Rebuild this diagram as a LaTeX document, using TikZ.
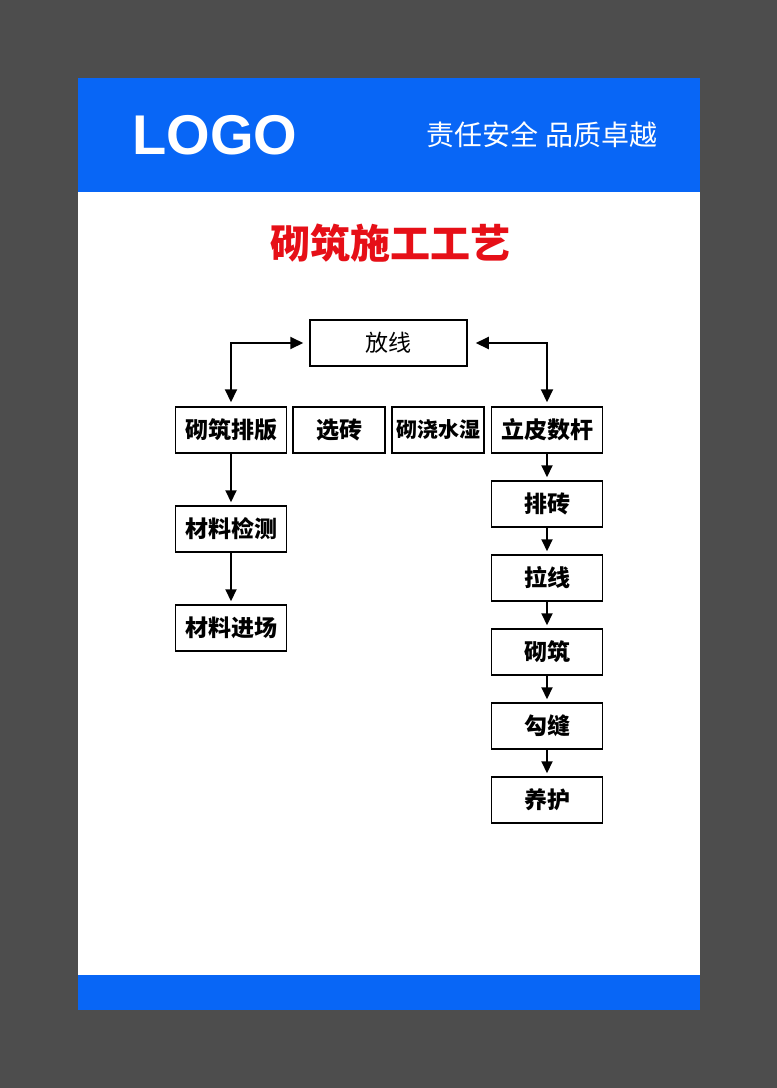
\documentclass[tikz,border=0pt]{standalone}
\usepackage{fontspec}
\setmainfont{Liberation Sans}
\newfontfamily\cjk{Noto Sans CJK SC}
\usetikzlibrary{positioning,arrows.meta}
\definecolor{hdrblue}{HTML}{0866F6}
\definecolor{bggray}{HTML}{4D4D4D}
\definecolor{ttlred}{HTML}{E60F17}
\tikzset{
  stepbox/.style={draw,line width=0.75pt,minimum height=23pt,inner sep=0pt,font=\cjk\bfseries\fontsize{11.5}{12}\selectfont},
  widebox/.style={stepbox,minimum width=55.5pt},
  narrowbox/.style={stepbox,minimum width=46pt},
  flow/.style={line width=1pt,-{Triangle[length=6pt,width=5.5pt]},shorten >=1.5pt},
  both/.style={line width=1pt,{Triangle[length=6.5pt,width=6pt]}-{Triangle[length=6.5pt,width=6pt]}}
}
\begin{document}
\begin{tikzpicture}[x=0.5pt,y=-0.5pt]
\fill[bggray] (0,0) rectangle (777,1088);
\fill[white] (78,78) rectangle (700,1010);
\fill[hdrblue] (78,78) rectangle (700,192);
\fill[hdrblue] (78,975) rectangle (700,1010);
\node(LOGO)[text=white,font=\bfseries\fontsize{28}{30}\selectfont] at (215,135){LOGO};
\node(SLG)[text=white,font=\cjk\fontsize{14}{16}\selectfont] at (542,135){责任安全 品质卓越};
\node(TTL)[text=ttlred,font=\cjk\bfseries\fontsize{20}{22}\selectfont] at (390,243){砌筑施工工艺};
\node(FX)[stepbox,minimum width=78.5pt,font=\cjk\fontsize{11.5}{12}\selectfont] at (388.5,343){放线};
\node(QZ)[widebox] at (231,430){砌筑排版};
\node(XZ)[narrowbox] at (339,430){选砖};
\node(JS)[narrowbox,font=\cjk\bfseries\fontsize{10.5}{12}\selectfont] at (438,430){砌浇水湿};
\node(LP)[widebox] at (547,430){立皮数杆};
\node(JC)[widebox,below=25.75pt of QZ]{材料检测};
\node(JR)[widebox,below=25.75pt of JC]{材料进场};
\node(PZ)[widebox,below=13.25pt of LP]{排砖};
\node(LX)[widebox,below=13.25pt of PZ]{拉线};
\node(QU)[widebox,below=13.25pt of LX]{砌筑};
\node(GF)[widebox,below=13.25pt of QU]{勾缝};
\node(YH)[widebox,below=13.25pt of GF]{养护};
\draw[both] ([xshift=-3pt]FX.west) -| ([yshift=2pt]QZ.north);
\draw[both] ([xshift=4pt]FX.east) -| ([yshift=2pt]LP.north);
\foreach \a/\b in {QZ/JC,JC/JR,LP/PZ,PZ/LX,LX/QU,QU/GF,GF/YH}
  \draw[flow] (\a) -- (\b);
\end{tikzpicture}
\end{document}
